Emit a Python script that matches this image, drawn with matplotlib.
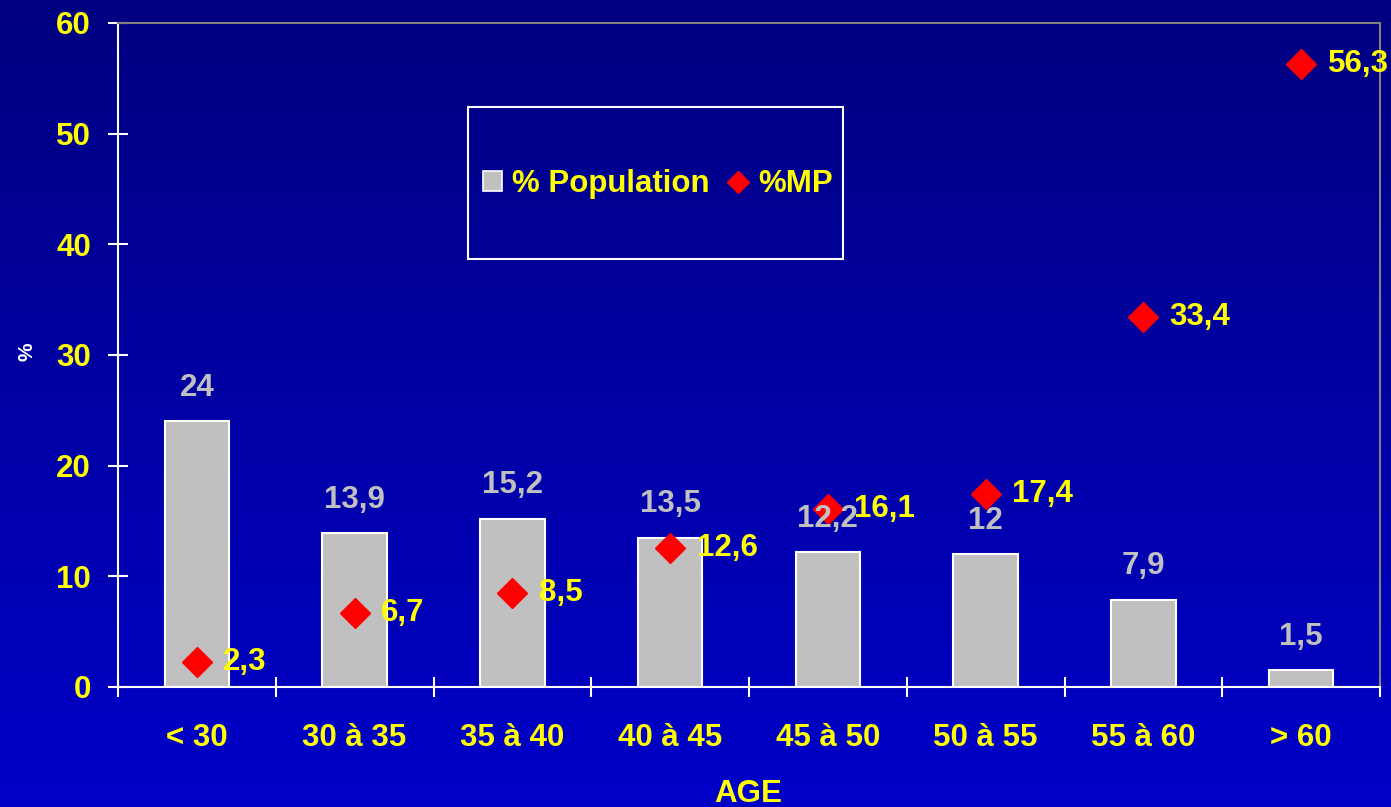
import matplotlib
matplotlib.use('Agg')
import matplotlib.pyplot as plt
import numpy as np
from matplotlib.patches import Rectangle, Patch
from matplotlib.lines import Line2D

categories = ['< 30', '30 à 35', '35 à 40', '40 à 45', '45 à 50', '50 à 55', '55 à 60', '> 60']
pop = [24, 13.9, 15.2, 13.5, 12.2, 12, 7.9, 1.5]
mp = [2.3, 6.7, 8.5, 12.6, 16.1, 17.4, 33.4, 56.3]
pop_labels = ['24', '13,9', '15,2', '13,5', '12,2', '12', '7,9', '1,5']
mp_labels = ['2,3', '6,7', '8,5', '12,6', '16,1', '17,4', '33,4', '56,3']
yticks = [0, 10, 20, 30, 40, 50, 60]

plt.rcParams['font.family'] = ['Liberation Sans', 'DejaVu Sans']
plt.rcParams['font.weight'] = 'bold'

W, H = 1391, 807
FS = 22.5
fig = plt.figure(figsize=(W / 100, H / 100), dpi=100)

# gradient background
bg = fig.add_axes([0, 0, 1, 1], zorder=-10)
t = np.linspace(0, 1, 256)
img = np.zeros((256, 1, 3))
img[:, 0, 2] = (128 + (200 - 128) * t) / 255.0
bg.imshow(img, aspect='auto', extent=[0, 1, 0, 1], origin='upper')
bg.set_axis_off()

YELLOW = '#FFFF00'
GRAY = '#C0C0C0'

ax = fig.add_axes([118 / W, (H - 687) / H, (1380 - 118) / W, (687 - 23) / H])
ax.set_facecolor('none')
x = np.arange(len(categories))
ax.bar(x, pop, width=0.41, color=GRAY, edgecolor='white', linewidth=1.5, zorder=2)
ax.plot(x, mp, linestyle='none', marker='D', markersize=15, color='red',
        markeredgecolor='red', zorder=3, clip_on=False)

for xi, v, lab in zip(x, pop, pop_labels):
    ax.annotate(lab, (xi, v), xytext=(0, 24), textcoords='offset points',
                ha='center', va='center', color=GRAY, fontsize=FS,
                fontweight='bold', zorder=5)
for xi, v, lab in zip(x, mp, mp_labels):
    ax.annotate(lab, (xi, v), xytext=(19, 0), textcoords='offset points',
                ha='left', va='center', color=YELLOW, fontsize=FS,
                fontweight='bold', zorder=5, annotation_clip=False)

ax.set_xlim(-0.5, len(categories) - 0.5)
ax.set_ylim(0, 60)
ax.set_yticks(yticks)
ax.set_yticklabels([str(v) for v in yticks])
ax.set_xticks(x)
ax.set_xticklabels(categories)
ax.set_xticks(np.arange(-0.5, len(categories)), minor=True)
ax.tick_params(axis='x', which='major', length=0, pad=26, labelcolor=YELLOW, labelsize=FS)
ax.tick_params(axis='x', which='minor', direction='inout', length=15, width=1.5, color='white')
ax.tick_params(axis='y', direction='inout', length=15, width=1.5, color='white',
               labelcolor=YELLOW, labelsize=FS, pad=12)
for lab in ax.get_xticklabels() + ax.get_yticklabels():
    lab.set_fontweight('bold')

ax.spines['left'].set_color('white')
ax.spines['bottom'].set_color('white')
ax.spines['left'].set_linewidth(1.5)
ax.spines['bottom'].set_linewidth(1.5)
ax.spines['top'].set_color('#808080')
ax.spines['right'].set_color('#808080')
ax.spines['top'].set_linewidth(1.5)
ax.spines['right'].set_linewidth(1.5)

fig.text(27 / W, 1 - 352 / H, '%', rotation=90, color='white', fontsize=15,
         fontweight='bold', ha='center', va='center')
fig.text(748 / W, 1 - 794 / H, 'AGE', color=YELLOW, fontsize=FS,
         fontweight='bold', ha='center', va='center')

# legend
handles = [Patch(facecolor=GRAY, edgecolor='white', linewidth=1.2),
           Line2D([], [], linestyle='none', marker='D', markersize=11, color='red')]
leg = fig.legend(handles, ['% Population', '%MP'], loc='center',
                 bbox_to_anchor=(658 / W, 1 - 184 / H), ncol=2, frameon=False,
                 prop={'family': ['Liberation Sans'], 'weight': 'bold', 'size': FS},
                 handlelength=0.6, handleheight=0.6, handletextpad=0.35,
                 columnspacing=0.6, borderpad=0)
for txt in leg.get_texts():
    txt.set_color(YELLOW)
fig.patches.append(Rectangle((468 / W, 1 - 259 / H), (843 - 468) / W, (259 - 107) / H,
                             transform=fig.transFigure, facecolor='none',
                             edgecolor='white', linewidth=1.5))

fig.savefig('out.png', dpi=100)
